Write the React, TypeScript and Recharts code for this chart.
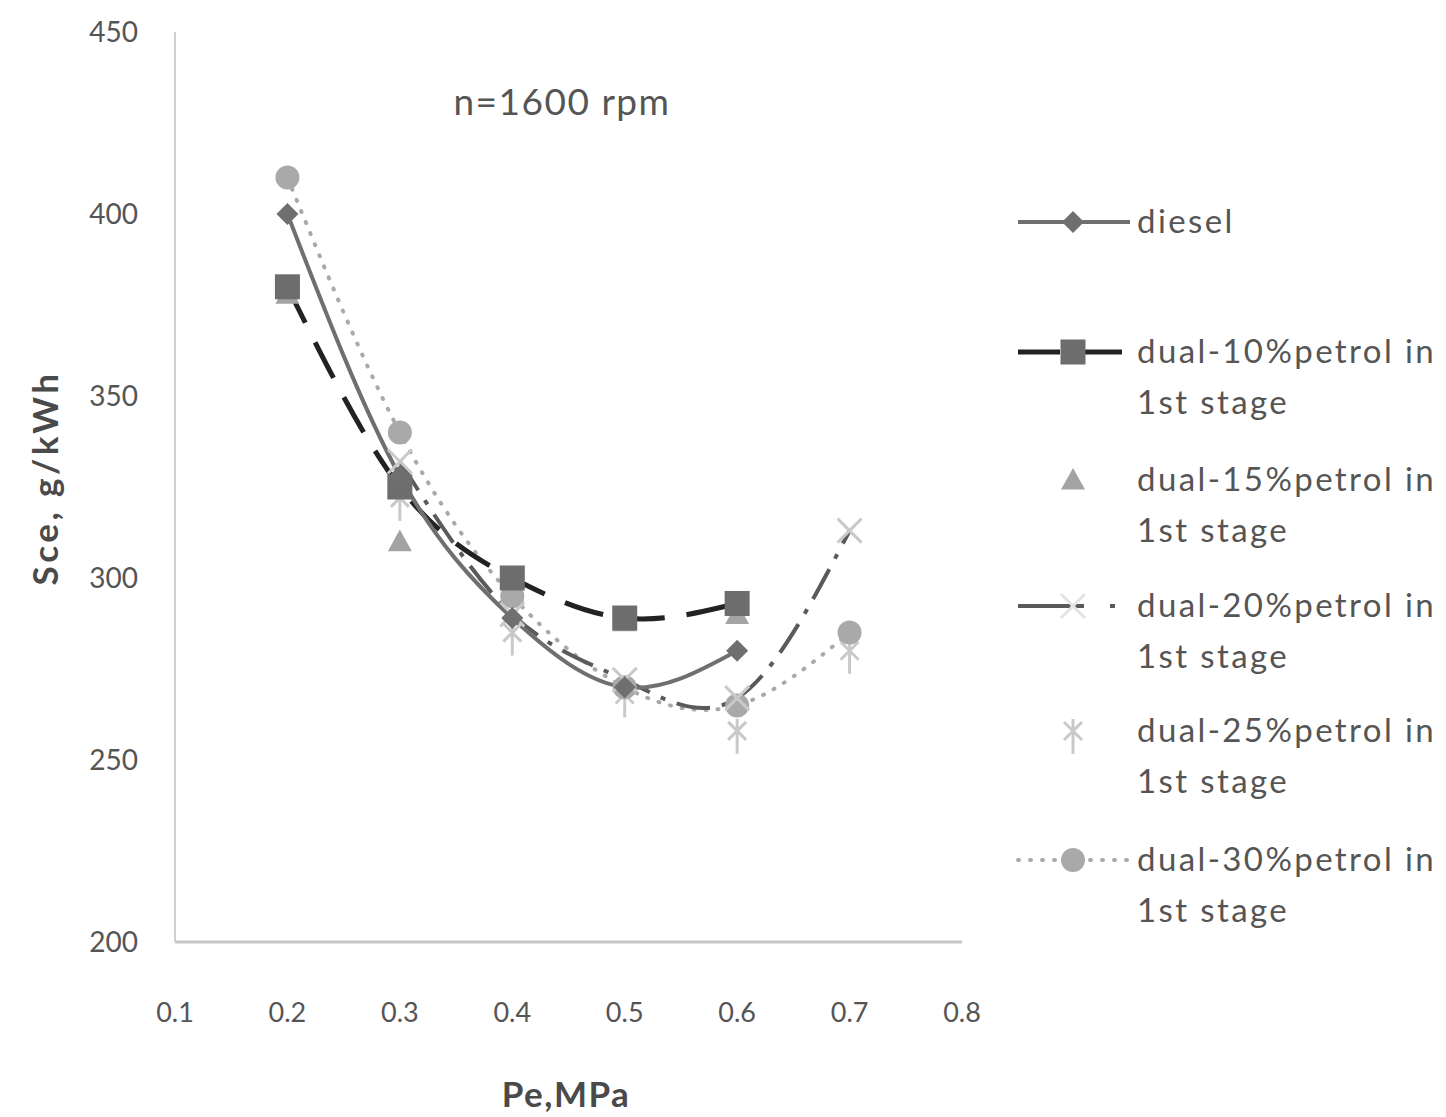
import React from 'react';
import { LineChart, Line, XAxis, YAxis } from 'recharts';

const peValues = [0.2, 0.3, 0.4, 0.5, 0.6, 0.7];
const peFrom03 = [0.3, 0.4, 0.5, 0.6, 0.7];
const xTicks = [0.1, 0.2, 0.3, 0.4, 0.5, 0.6, 0.7, 0.8];
const yTicks = [200, 250, 300, 350, 400, 450];

const diesel = [400, 328, 289, 270, 280];
const dual10 = [380, 325, 300, 289, 293];
const dual15 = [378, 310, 296, 288, 290];
const dual20 = [332, 290, 272, 267, 313];
const dual25 = [322, 285, 268, 258, 280];
const dual30 = [410, 340, 295, 270, 265, 285];

const seriesNames = [
  'diesel',
  'dual-10%petrol in 1st stage',
  'dual-15%petrol in 1st stage',
  'dual-20%petrol in 1st stage',
  'dual-25%petrol in 1st stage',
  'dual-30%petrol in 1st stage',
];

const toPoints = (vals: number[], xs: number[] = peValues) => vals.map((y, i) => ({ x: xs[i], y }));

const FONT = 'Lato, "Open Sans", sans-serif';
const TXT = '#555';
const TITLE = '#4a4a4a';

const C_DIESEL = '#6f6f6f';
const C_D10_LINE = '#222';
const C_D10_MARK = '#6d6d6d';
const C_D15 = '#a3a3a3';
const C_D20_LINE = '#5a5a5a';
const C_LIGHT = '#c9c9c9';
const C_D30 = '#a9a9a9';

type Shape = 'diamond' | 'square' | 'triangle' | 'x' | 'star' | 'circle';

function marker(shape: Shape, cx: number, cy: number, color: string, key?: any) {
  switch (shape) {
    case 'diamond': {
      const r = 11;
      return <path key={key} d={`M${cx},${cy - r}L${cx + r},${cy}L${cx},${cy + r}L${cx - r},${cy}Z`} fill={color} />;
    }
    case 'square': {
      const s = 25;
      return <rect key={key} x={cx - s / 2} y={cy - s / 2} width={s} height={s} fill={color} />;
    }
    case 'triangle': {
      const r = 12;
      return <path key={key} d={`M${cx},${cy - r}L${cx + r},${cy + r * 0.8}L${cx - r},${cy + r * 0.8}Z`} fill={color} />;
    }
    case 'x': {
      const r = 12;
      return (
        <g key={key} stroke={color} strokeWidth={3}>
          <line x1={cx - r} y1={cy - r} x2={cx + r} y2={cy + r} />
          <line x1={cx - r} y1={cy + r} x2={cx + r} y2={cy - r} />
        </g>
      );
    }
    case 'star': {
      const r = 9;
      return (
        <g key={key} stroke={color} strokeWidth={3}>
          <line x1={cx - r} y1={cy - r} x2={cx + r} y2={cy + r} />
          <line x1={cx - r} y1={cy + r} x2={cx + r} y2={cy - r} />
          <line x1={cx} y1={cy - r - 3} x2={cx} y2={cy + r + 14} />
        </g>
      );
    }
    case 'circle':
    default:
      return <circle key={key} cx={cx} cy={cy} r={12} fill={color} />;
  }
}

const dotFn = (shape: Shape, color: string) => (props: any) => {
  const { cx, cy, index } = props;
  if (cx == null || cy == null) return <g key={`e-${index}`} />;
  return marker(shape, cx, cy, color, `${shape}-${index}`);
};

const DASH_D10 = '40 22';
const DASH_D20 = '34 12 5 12';
const DASH_D30 = '1 11';

export default function App() {
  const legendX = 1137;
  const items: { shape: Shape; color: string; line?: { stroke: string; dash?: string; w: number; cap?: string }; y: number }[] = [
    { shape: 'diamond', color: C_DIESEL, line: { stroke: C_DIESEL, w: 4 }, y: 222 },
    { shape: 'square', color: C_D10_MARK, line: { stroke: C_D10_LINE, dash: '42 20', w: 5 }, y: 352 },
    { shape: 'triangle', color: C_D15, y: 480 },
    { shape: 'x', color: '#e3e3e3', line: { stroke: C_D20_LINE, dash: '66 26 5 20', w: 4 }, y: 606 },
    { shape: 'star', color: C_LIGHT, y: 731 },
    { shape: 'circle', color: C_D30, line: { stroke: C_D30, dash: DASH_D30, w: 4, cap: 'round' }, y: 860 },
  ];

  return (
    <div style={{ position: 'absolute', left: 0, top: 0, width: 1446, height: 1117, background: '#fff' }}>
      <LineChart width={1446} height={1117} margin={{ top: 32, right: 484, left: 0, bottom: 0 }}>
        <XAxis
          dataKey="x"
          type="number"
          domain={[0.1, 0.8]}
          ticks={xTicks}
          allowDuplicatedCategory={false}
          height={175}
          tickLine={false}
          tickSize={0}
          tickMargin={61}
          axisLine={{ stroke: '#c6c6c6', strokeWidth: 3 }}
          tick={{ fill: TXT, fontSize: 27, fontFamily: FONT }}
          tickFormatter={(v: number) => String(v)}
        />
        <YAxis
          type="number"
          domain={[200, 450]}
          ticks={yTicks}
          width={175}
          tickLine={false}
          tickSize={0}
          tickMargin={37}
          axisLine={{ stroke: '#cfcfcf', strokeWidth: 2 }}
          tick={{ fill: TXT, fontSize: 28, fontFamily: FONT }}
        />
        <Line
          data={toPoints(dual15)}
          dataKey="y"
          name={seriesNames[2]}
          stroke="none"
          dot={dotFn('triangle', C_D15)}
          activeDot={false}
          isAnimationActive={false}
        />
        <Line
          data={toPoints(dual25, peFrom03)}
          dataKey="y"
          name={seriesNames[4]}
          stroke="none"
          dot={dotFn('star', C_LIGHT)}
          activeDot={false}
          isAnimationActive={false}
        />
        <Line
          data={toPoints(dual30)}
          dataKey="y"
          name={seriesNames[5]}
          type="natural"
          stroke={C_D30}
          strokeWidth={4}
          strokeDasharray={DASH_D30}
          strokeLinecap="round"
          dot={dotFn('circle', C_D30)}
          activeDot={false}
          isAnimationActive={false}
        />
        <Line
          data={toPoints(dual20, peFrom03)}
          dataKey="y"
          name={seriesNames[3]}
          type="natural"
          stroke={C_D20_LINE}
          strokeWidth={4}
          strokeDasharray={DASH_D20}
          dot={dotFn('x', C_LIGHT)}
          activeDot={false}
          isAnimationActive={false}
        />
        <Line
          data={toPoints(dual10)}
          dataKey="y"
          name={seriesNames[1]}
          type="natural"
          stroke={C_D10_LINE}
          strokeWidth={5}
          strokeDasharray={DASH_D10}
          dot={dotFn('square', C_D10_MARK)}
          activeDot={false}
          isAnimationActive={false}
        />
        <Line
          data={toPoints(diesel)}
          dataKey="y"
          name={seriesNames[0]}
          type="natural"
          stroke={C_DIESEL}
          strokeWidth={4}
          dot={dotFn('diamond', C_DIESEL)}
          activeDot={false}
          isAnimationActive={false}
        />
      </LineChart>
      <svg
        width={1446}
        height={1117}
        style={{ position: 'absolute', left: 0, top: 0, pointerEvents: 'none' }}
        fontFamily={FONT}
      >
        <text x={562} y={115} textAnchor="middle" fontSize={37} letterSpacing={1.5} fill={TXT}>n=1600 rpm</text>
        <text x={566} y={1107} textAnchor="middle" fontSize={35} letterSpacing={1.5} fontWeight="bold" fill={TITLE}>Pe,MPa</text>
        <text
          x={0}
          y={0}
          transform="translate(58,478) rotate(-90)"
          textAnchor="middle"
          fontSize={35}
          letterSpacing={3.5}
          fontWeight="bold"
          fill={TITLE}
        >
          Sce, g/kWh
        </text>
        {items.map((it, i) => {
          const name = seriesNames[i];
          const parts = name === 'diesel' ? ['diesel'] : [name.replace(' 1st stage', ''), '1st stage'];
          return (
            <g key={i}>
              {it.line && (
                <line
                  x1={1018}
                  x2={1130}
                  y1={it.y}
                  y2={it.y}
                  stroke={it.line.stroke}
                  strokeWidth={it.line.w}
                  strokeDasharray={it.line.dash}
                  strokeLinecap={(it.line.cap as any) || 'butt'}
                />
              )}
              {marker(it.shape, 1073, it.y, it.color)}
              {parts.map((p, j) => (
                <text key={j} x={legendX} y={it.y + 11 + j * 51} fontSize={33} letterSpacing={2.4} fill={TXT}>
                  {p}
                </text>
              ))}
            </g>
          );
        })}
      </svg>
    </div>
  );
}
